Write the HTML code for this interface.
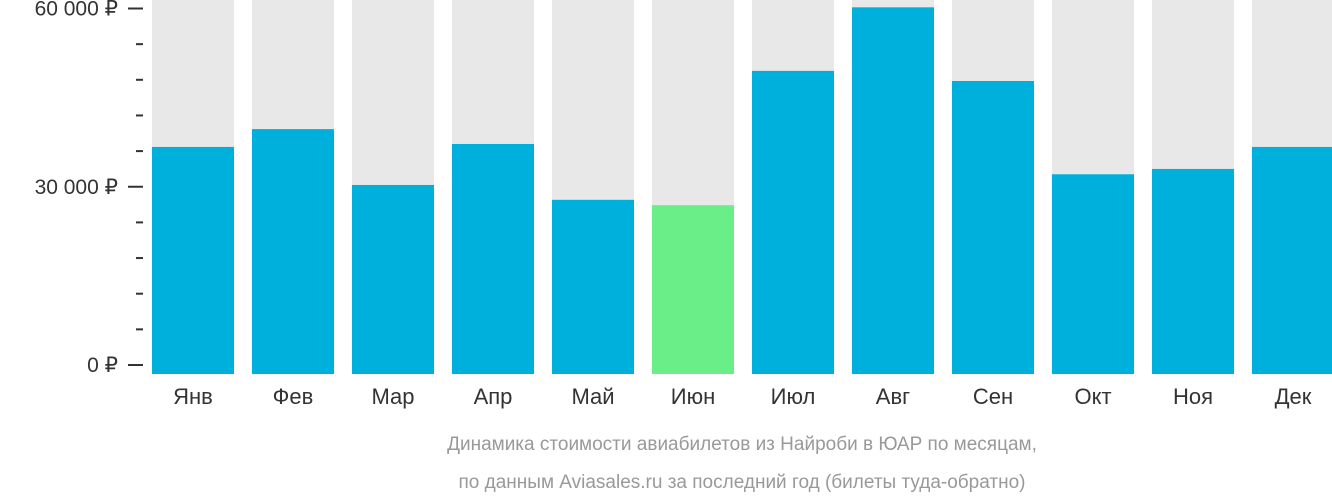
<!DOCTYPE html>
<html><head><meta charset="utf-8"><style>
body{margin:0;background:#fff;}
svg{display:block;font-family:"Liberation Sans","DejaVu Sans",sans-serif;}
</style></head><body>
<svg id="c" width="1332" height="502"></svg>
<script>
const months=["Янв","Фев","Мар","Апр","Май","Июн","Июл","Авг","Сен","Окт","Ноя","Дек"];
const prices=[36700,39700,30300,37200,27800,26900,49500,60200,47800,32100,33000,36700];
const highlight=[5];
const tickValues=[0,30000,60000];
const tickLabels=["0 ₽","30 000 ₽","60 000 ₽"];
const minorTicks=[6000,12000,18000,24000,36000,42000,48000,54000];
const NS="http://www.w3.org/2000/svg";
const svg=document.getElementById('c');
function y(v){return 365-v*356.5/60000;}
function x(i){return 152+i*100;}
function mk(t,a){const e=document.createElementNS(NS,t);for(const k in a)e.setAttribute(k,a[k]);svg.appendChild(e);return e;}
months.forEach((m,i)=>{
 const bg=mk('rect',{x:x(i),y:0,width:82,height:374,fill:'#e8e8e8'});
 
 
 const top=Math.max(0,y(prices[i]));
 const b=mk('rect',{x:x(i),y:top,width:82,height:374-top,fill:highlight.includes(i)?'#6aef88':'#00b0dc'});
 
 
 const t=mk('text',{x:x(i)+41,y:404,'text-anchor':'middle','font-size':22,fill:'#333'});
 t.textContent=m;
 
 
});
tickValues.forEach((v,i)=>{
 const l=mk('line',{x1:128,x2:143,y1:y(v),y2:y(v),stroke:'#333','stroke-width':2});
 
 
 const t=mk('text',{x:118,y:y(v)+7,'text-anchor':'end','font-size':21,fill:'#333'});
 t.textContent=tickLabels[i];
 
 
});
minorTicks.forEach(v=>{
 const l=mk('line',{x1:136,x2:143,y1:y(v),y2:y(v),stroke:'#333','stroke-width':2});
 
 
});
const c1=mk('text',{x:742,y:450,'text-anchor':'middle','font-size':19,fill:'#999'});
c1.textContent='Динамика стоимости авиабилетов из Найроби в ЮАР по месяцам,';


const c2=mk('text',{x:742,y:488,'text-anchor':'middle','font-size':19,fill:'#999'});
c2.textContent='по данным Aviasales.ru за последний год (билеты туда-обратно)';


</script>
</body></html>
